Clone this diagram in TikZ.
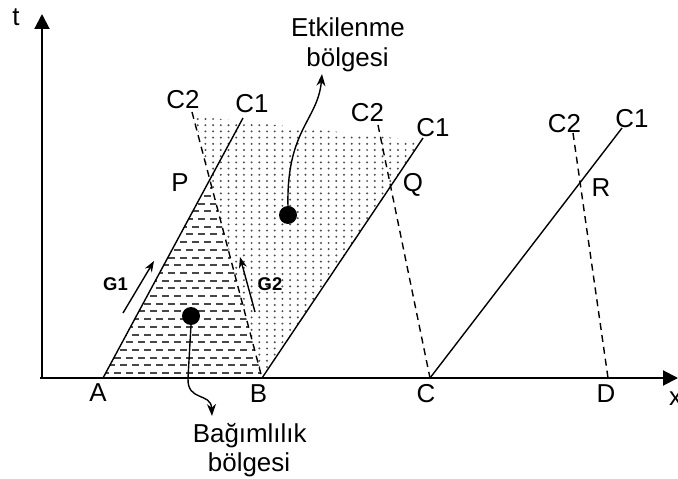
\documentclass[tikz,border=0pt]{standalone}
\usepackage{fontspec}
\setmainfont{Liberation Sans}
\usetikzlibrary{arrows.meta}
\begin{document}
\begin{tikzpicture}[x=1bp,y=-1bp,
  lbl/.style={font=\fontsize{26}{29}\selectfont, inner sep=0pt, anchor=base},
  glbl/.style={font=\fontsize{18.5}{22}\selectfont\bfseries, inner sep=0pt, anchor=base},
  axis/.style={line width=2bp, -{Triangle[length=15bp,width=15bp]}},
  cline/.style={line width=1.4bp},
  dline/.style={line width=1.4bp, dash pattern=on 7bp off 5bp},
  smallarrow/.style={line width=1.4bp, -{Stealth[length=11bp,width=8bp]}},
  curvearrow/.style={line width=1.4bp, -{Stealth[length=12bp,width=9bp]}},
  bigdot/.style={circle, fill=black, inner sep=0pt, minimum size=18bp},
  hatch/.style={line width=2bp, draw=black!72, dash pattern=on 7bp off 5bp},
  dotfill/.style={fill=black!70}
]
\useasboundingbox (0,0) rectangle (678,479);

% key points
\coordinate (O) at (42,378);
\coordinate (Ytip) at (42,14);
\coordinate (Xstart) at (40,378);
\coordinate (Xtip) at (678,378);
\coordinate (A) at (103,378);
\coordinate (B) at (262,378);
\coordinate (C) at (430,378);
\coordinate (D) at (608,378);
\coordinate (A1) at (243,118);
\coordinate (B2) at (192,112);
\coordinate (B1) at (423,138);
\coordinate (C2t) at (378,125);
\coordinate (C1t) at (622,128);
\coordinate (D2) at (573,133);
\coordinate (Pi) at (209.8,179.7);
\coordinate (TL) at (194,116);
\coordinate (TR) at (421.7,141);

% dotted region (influence)
\begin{scope}
  \clip (TL) -- (B) -- (TR) -- cycle;
  \foreach \xx in {0,...,31}{
    \foreach \yy in {0,...,43}{
      \fill[dotfill] (190+7.7*\xx,119+6.2*\yy) circle (1.1bp);
    }
  }
\end{scope}

% dashed region (dependence)
\begin{scope}
  \clip (A) -- (Pi) -- (B) -- cycle;
  \fill[white] (A) -- (Pi) -- (B) -- cycle;
  \foreach \k in {0,...,25}{
    \pgfmathsetmacro{\yy}{373-7.7*\k}
    \pgfmathsetmacro{\xo}{90+6*mod(\k,2)}
    \draw[hatch] (\xo,\yy) -- (275,\yy);
  }
\end{scope}

% axes
\draw[axis] (O) -- (Ytip);
\draw[axis] (Xstart) -- (Xtip);

% characteristics
\draw[cline] (A) -- (A1);
\draw[dline] (B2) -- (B);
\draw[cline] (B) -- (B1);
\draw[dline] (C2t) -- (C);
\draw[cline] (C) -- (C1t);
\draw[dline] (D2) -- (D);

% labels
\node[lbl] (tl) at (16,26) {t};
\node[lbl, anchor=base west] (xl) at (669,405) {x};
\node[lbl] (Al) at (98,401) {A};
\node[lbl] (Bl) at (258.5,402) {B};
\node[lbl] (Cl) at (426,402) {C};
\node[lbl] (Dl) at (606,402) {D};
\node[lbl] (c2a) at (183,109) {C2};
\node[lbl] (c1a) at (252,113) {C1};
\node[lbl] (c2b) at (367.5,122) {C2};
\node[lbl] (c1b) at (433,137) {C1};
\node[lbl] (c2c) at (564.5,133) {C2};
\node[lbl] (c1c) at (632,128) {C1};
\node[lbl] (Pl) at (180,192) {P};
\node[lbl] (Ql) at (413,192) {Q};
\node[lbl] (Rl) at (601,197) {R};
\node[glbl] (G1l) at (115.5,290) {G1};
\node[glbl] (G2l) at (270,290) {G2};

% G arrows
\coordinate (g1s) at (123,313);
\coordinate (g1e) at (154,261);
\coordinate (g2s) at (255,312);
\coordinate (g2e) at (240,257);
\draw[smallarrow] (g1s) -- (g1e);
\draw[smallarrow] (g2s) -- (g2e);

% big dots
\node[bigdot] (dep) at (191,316) {};
\node[bigdot] (inf) at (288,215) {};

% region labels and curved arrows
\node[lbl] (etk1) at (348,36.7) {Etkilenme};
\node[lbl] (etk2) at (347.5,66.7) {bölgesi};
\coordinate (etkend) at (322,74);
\draw[curvearrow] (inf.center) ++(0,-8) .. controls (286,130) and (318,120) .. (etkend);

\node[lbl] (bag1) at (249.7,442) {Bağımlılık};
\node[lbl] (bag2) at (249,471.7) {bölgesi};
\coordinate (bagend) at (212,416);
\draw[curvearrow] (191,325) -- (188,378) .. controls (187,402) and (211,392) .. (bagend);
\end{tikzpicture}
\end{document}
